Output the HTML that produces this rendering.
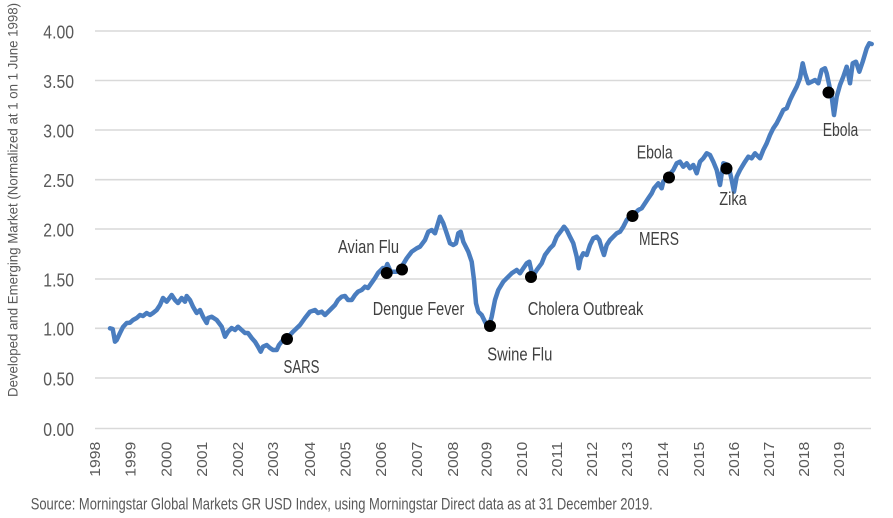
<!DOCTYPE html>
<html>
<head>
<meta charset="utf-8">
<style>
  html,body{margin:0;padding:0;background:#ffffff;}
  svg{display:block;}
  text{font-family:"Liberation Sans Narrow","Liberation Sans",sans-serif;}
</style>
</head>
<body>
<svg width="893" height="518" viewBox="0 0 893 518" xmlns="http://www.w3.org/2000/svg">
  <rect width="893" height="518" fill="#ffffff"/>
  <!-- gridlines -->
  <g stroke="#d9d9d9" stroke-width="1.6">
    <line x1="95" y1="31" x2="871" y2="31"/>
    <line x1="95" y1="80.5" x2="871" y2="80.5"/>
    <line x1="95" y1="130" x2="871" y2="130"/>
    <line x1="95" y1="179.7" x2="871" y2="179.7"/>
    <line x1="95" y1="229" x2="871" y2="229"/>
    <line x1="95" y1="279" x2="871" y2="279"/>
    <line x1="95" y1="328.3" x2="871" y2="328.3"/>
    <line x1="95" y1="378" x2="871" y2="378"/>
    <line x1="95" y1="428.5" x2="871" y2="428.5"/>
  </g>
  <!-- y tick labels -->
  <g fill="#595959" font-size="18" text-anchor="end">
    <text x="74" y="38.3" textLength="30.7" lengthAdjust="spacingAndGlyphs">4.00</text>
    <text x="74" y="87.8" textLength="30.7" lengthAdjust="spacingAndGlyphs">3.50</text>
    <text x="74" y="137.3" textLength="30.7" lengthAdjust="spacingAndGlyphs">3.00</text>
    <text x="74" y="187" textLength="30.7" lengthAdjust="spacingAndGlyphs">2.50</text>
    <text x="74" y="236.3" textLength="30.7" lengthAdjust="spacingAndGlyphs">2.00</text>
    <text x="74" y="286.3" textLength="30.7" lengthAdjust="spacingAndGlyphs">1.50</text>
    <text x="74" y="335.6" textLength="30.7" lengthAdjust="spacingAndGlyphs">1.00</text>
    <text x="74" y="385.3" textLength="30.7" lengthAdjust="spacingAndGlyphs">0.50</text>
    <text x="74" y="435.8" textLength="30.7" lengthAdjust="spacingAndGlyphs">0.00</text>
  </g>
  <!-- y axis title -->
  <text transform="translate(17.5,200) rotate(-90)" fill="#595959" font-size="14" text-anchor="middle" textLength="394" lengthAdjust="spacingAndGlyphs">Developed and Emerging Market (Normalized at 1 on 1 June 1998)</text>
  <!-- x tick labels -->
  <g fill="#595959" font-size="14.5" text-anchor="end">
    <text transform="translate(100,441.7) rotate(-90)" textLength="35" lengthAdjust="spacingAndGlyphs">1998</text>
    <text transform="translate(135.5,441.7) rotate(-90)" textLength="35" lengthAdjust="spacingAndGlyphs">1999</text>
    <text transform="translate(171.5,441.7) rotate(-90)" textLength="35" lengthAdjust="spacingAndGlyphs">2000</text>
    <text transform="translate(207.2,441.7) rotate(-90)" textLength="35" lengthAdjust="spacingAndGlyphs">2001</text>
    <text transform="translate(242.8,441.7) rotate(-90)" textLength="35" lengthAdjust="spacingAndGlyphs">2002</text>
    <text transform="translate(278.2,441.7) rotate(-90)" textLength="35" lengthAdjust="spacingAndGlyphs">2003</text>
    <text transform="translate(314.8,441.7) rotate(-90)" textLength="35" lengthAdjust="spacingAndGlyphs">2004</text>
    <text transform="translate(350.5,441.7) rotate(-90)" textLength="35" lengthAdjust="spacingAndGlyphs">2005</text>
    <text transform="translate(386.2,441.7) rotate(-90)" textLength="35" lengthAdjust="spacingAndGlyphs">2006</text>
    <text transform="translate(422.2,441.7) rotate(-90)" textLength="35" lengthAdjust="spacingAndGlyphs">2007</text>
    <text transform="translate(458.2,441.7) rotate(-90)" textLength="35" lengthAdjust="spacingAndGlyphs">2008</text>
    <text transform="translate(491.5,441.7) rotate(-90)" textLength="35" lengthAdjust="spacingAndGlyphs">2009</text>
    <text transform="translate(527.2,441.7) rotate(-90)" textLength="35" lengthAdjust="spacingAndGlyphs">2010</text>
    <text transform="translate(562.2,441.7) rotate(-90)" textLength="35" lengthAdjust="spacingAndGlyphs">2011</text>
    <text transform="translate(597.2,441.7) rotate(-90)" textLength="35" lengthAdjust="spacingAndGlyphs">2012</text>
    <text transform="translate(632.2,441.7) rotate(-90)" textLength="35" lengthAdjust="spacingAndGlyphs">2013</text>
    <text transform="translate(668.2,441.7) rotate(-90)" textLength="35" lengthAdjust="spacingAndGlyphs">2014</text>
    <text transform="translate(703.8,441.7) rotate(-90)" textLength="35" lengthAdjust="spacingAndGlyphs">2015</text>
    <text transform="translate(738.8,441.7) rotate(-90)" textLength="35" lengthAdjust="spacingAndGlyphs">2016</text>
    <text transform="translate(773.8,441.7) rotate(-90)" textLength="35" lengthAdjust="spacingAndGlyphs">2017</text>
    <text transform="translate(808.8,441.7) rotate(-90)" textLength="35" lengthAdjust="spacingAndGlyphs">2018</text>
    <text transform="translate(843.8,441.7) rotate(-90)" textLength="35" lengthAdjust="spacingAndGlyphs">2019</text>
  </g>
  <!-- series line -->
  <polyline fill="none" stroke="#4a7dbf" stroke-width="4.5" stroke-linejoin="round" stroke-linecap="round" points="
110,328.3 112.7,329 115,341.7 116.7,340 120,333 123,327 126.7,323 130,322.7 133,320 136.7,318 140,315 143,316 146.7,313 150,315 153,313 156.7,310 160,305 163,298 166.7,301.7 171.7,295 175,300 178,303 181.7,298 185,301.7 186.7,296 190,300 193,306.7 196.7,313 200,310 203,316.7 206.7,323 208,318 211.7,316.7 216.7,320 221.7,326.7 225,336.7 228,331.7 231.7,328 235,330 238,326.7 241.7,330 245,333 248,333 251.7,338 255,341.7 258,346.7 260.7,351.7 263,346.7 266.7,345 270,348 273,350 276.7,350 279,345 283,340 287,338 290,335 293,331.7 300,325 305,318 310,311.7 315,310 318,313 321.7,311.7 325,315 330,310 335,305 338,300 341.7,296.7 345,296 348,300 351.7,300 355,295 358,291.7 361.7,290 365,286.7 368,288 371.7,282.7 375,278 378,273 383,268 385,270 387.3,264 390.7,271.7 396.7,271.7 401.7,266.7 406.7,258.3 411.7,251.7 416.7,248.3 420,246.7 425,240 428.3,231.7 431.7,230 435,233.3 440,216.7 443.3,223.3 446.7,233.3 450,243.3 453.3,245 456,243.3 458.3,233.3 460.7,231.7 463.3,241.7 468.3,251.7 471.7,261.7 474,280 476,303.3 478.3,311.7 481.7,315 485,321.7 488.3,328.3 491.7,316.7 495,300 498.3,290 503.3,281.7 508.3,276.7 511.7,273.3 516.7,270 520,273.3 523.3,268.3 526.7,263.3 529.3,261.7 532.7,276.7 536.7,270 541.7,263.3 545,255 550,248.3 553.3,245 556.7,236.7 561.7,230 564,226.7 566.7,230 570,236.7 573.3,243.3 576.7,256.7 578.7,268.3 580.7,258.3 583.3,253.3 586.7,255 590,245 593.3,238.3 596.7,236.7 599.3,240 601.7,248.3 604,255 606.7,245 610,240 613.3,236.7 616.7,233.3 620,231.7 623.3,226.7 626.7,220 631.7,215 635,213.3 638.3,210 641.7,208.3 645,203.3 648.3,198.3 651.7,193.3 654,188.3 658.3,183.3 661.7,188.3 663.3,181.7 666.7,178.3 673.3,170 676.7,163.3 680,161.7 683.3,166.7 686.7,163.3 690,168.3 693.3,165 696.7,173.3 700,161.7 703.3,158.3 706.7,153.3 710,155 713.3,161.7 716.7,170 720,185 723.3,163.3 728.3,165 731.7,180 734,191.7 736.7,176.7 740,170 745,161.7 748.3,156.7 751.7,158.3 755,153.3 760,158.3 763.3,150 766.7,143.3 770,135 773.3,128.3 776.7,123.3 780,116.7 783.3,110 786.7,108.3 790,100 793.3,93.3 796.7,86.7 800,78.3 802.7,63.3 805,73.3 808.3,83.3 811.7,81.7 815,80 818.3,83.3 821.7,70 825,68.3 826.7,73.3 831.7,96.7 834,115 836.7,96.7 840,85 843.3,76.7 846.7,66.7 850,83.3 852.7,63.3 856,61.7 859.3,71.7 862.7,61.7 866.7,48.3 869.3,43.3 871.7,44"/>
  <!-- event dots -->
  <g fill="#000000">
    <circle cx="287" cy="339" r="6"/>
    <circle cx="386.7" cy="273" r="6"/>
    <circle cx="402" cy="269.5" r="6"/>
    <circle cx="490" cy="326" r="6"/>
    <circle cx="531" cy="277" r="6"/>
    <circle cx="632.5" cy="216" r="6"/>
    <circle cx="669" cy="177.5" r="6"/>
    <circle cx="726.5" cy="168.5" r="6"/>
    <circle cx="828.5" cy="92.5" r="6"/>
  </g>
  <!-- annotations -->
  <g fill="#404040" font-size="18">
    <text x="338" y="253" textLength="61" lengthAdjust="spacingAndGlyphs">Avian Flu</text>
    <text x="372.7" y="315" textLength="91.6" lengthAdjust="spacingAndGlyphs">Dengue Fever</text>
    <text x="283.5" y="373" textLength="36" lengthAdjust="spacingAndGlyphs">SARS</text>
    <text x="487.3" y="360.7" textLength="65" lengthAdjust="spacingAndGlyphs">Swine Flu</text>
    <text x="527.7" y="315" textLength="115.6" lengthAdjust="spacingAndGlyphs">Cholera Outbreak</text>
    <text x="639" y="245" textLength="40" lengthAdjust="spacingAndGlyphs">MERS</text>
    <text x="636.7" y="158.3" textLength="36" lengthAdjust="spacingAndGlyphs">Ebola</text>
    <text x="719.3" y="205" textLength="27.4" lengthAdjust="spacingAndGlyphs">Zika</text>
    <text x="822.7" y="136" textLength="35.6" lengthAdjust="spacingAndGlyphs">Ebola</text>
  </g>
  <!-- footer -->
  <text x="30.7" y="509.3" fill="#595959" font-size="17" textLength="622" lengthAdjust="spacingAndGlyphs">Source: Morningstar Global Markets GR USD Index, using Morningstar Direct data as at 31 December 2019.</text>
</svg>
</body>
</html>
